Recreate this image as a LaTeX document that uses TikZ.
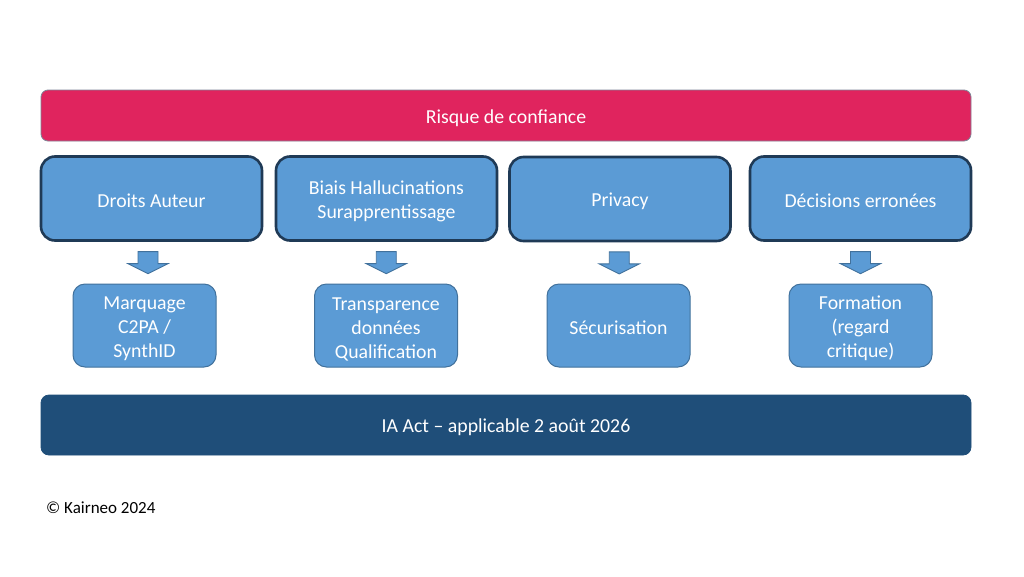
\documentclass[tikz,border=0pt]{standalone}
\usepackage{fontspec}
\setmainfont{Carlito}
\usetikzlibrary{calc}
\definecolor{pinkbar}{HTML}{E0245E}
\definecolor{boxblue}{HTML}{5B9BD5}
\definecolor{boxline}{HTML}{41719C}
\definecolor{topline}{HTML}{1F3A56}
\definecolor{darkbar}{HTML}{1F4E79}
\definecolor{pinkline}{HTML}{7F8597}
\newcommand{\firstup}{\rule{0pt}{20pt}}
\tikzset{
  base/.style={text=white, font=\fontsize{19.8}{24}\selectfont, align=center, inner sep=0pt,
    execute at begin node={\rule{0pt}{18.5pt}}},
  riskbar/.style={base, rectangle, rounded corners=7pt, fill=pinkbar, draw=pinkline, line width=0.8pt, minimum width=930pt, minimum height=51pt},
  topbox/.style={base, rectangle, rounded corners=14pt, fill=boxblue, draw=topline, line width=2.6pt, minimum width=221pt, minimum height=84pt},
  subbox/.style={base, rectangle, rounded corners=12pt, fill=boxblue, draw=boxline, line width=1pt, minimum width=143pt, minimum height=83pt},
  actbar/.style={base, rectangle, rounded corners=8pt, fill=darkbar, draw=darkbar, line width=0.8pt, minimum width=930pt, minimum height=60pt},
  blockarrow/.style={fill=boxblue, draw=boxline, line width=0.9pt, line join=miter}
}
\newcommand{\downarrowat}[1]{%
  \draw[blockarrow] ($(#1)+(-10,0)$) -- ($(#1)+(10,0)$) -- ($(#1)+(10,12)$) -- ($(#1)+(20,12)$)
    -- ($(#1)+(0,22)$) -- ($(#1)+(-20,12)$) -- ($(#1)+(-10,12)$) -- cycle;}
\begin{document}
\begin{tikzpicture}[x=1pt,y=-1pt]
\useasboundingbox[fill=white] (0,0) rectangle (1024,576);
\node[riskbar] (risk) at (506,115.5) {Risque de confiance};
\node[topbox] (t1) at (151.5,198.5) {Droits Auteur};
\node[topbox] (t2) at (386.5,198.5) {\firstup Biais Hallucinations\\Surapprentissage};
\node[topbox] (t3) at (620,199) {Privacy};
\node[topbox] (t4) at (860.5,198.5) {Décisions erronées};
\node[subbox] (b1) at (144.5,325.5) {\firstup Marquage\\C2PA /\\SynthID};
\node[subbox] (b2) at (386,325.5) {\firstup Transparence\\données\\Qualification};
\node[subbox] (b3) at (618.5,325.5) {Sécurisation};
\node[subbox] (b4) at (860.5,325.5) {\firstup Formation\\(regard\\critique)};
\node[actbar] (act) at (506,425) {IA Act – applicable 2 août 2026};
\node[anchor=west, inner sep=0pt, font=\fontsize{17}{20}\selectfont] (copy) at (46,508) {© Kairneo 2024};
\coordinate (a1) at ($(t1.south)!0.5!(b1.north)+(0,-11)$);
\coordinate (a2) at ($(t2.south)!0.5!(b2.north)+(0,-11)$);
\coordinate (a3) at ($(t3.south)!0.5!(b3.north)+(0,-11)$);
\coordinate (a4) at ($(t4.south)!0.5!(b4.north)+(0,-11)$);
\downarrowat{a1}
\downarrowat{a2}
\downarrowat{a3}
\downarrowat{a4}
\end{tikzpicture}
\end{document}
